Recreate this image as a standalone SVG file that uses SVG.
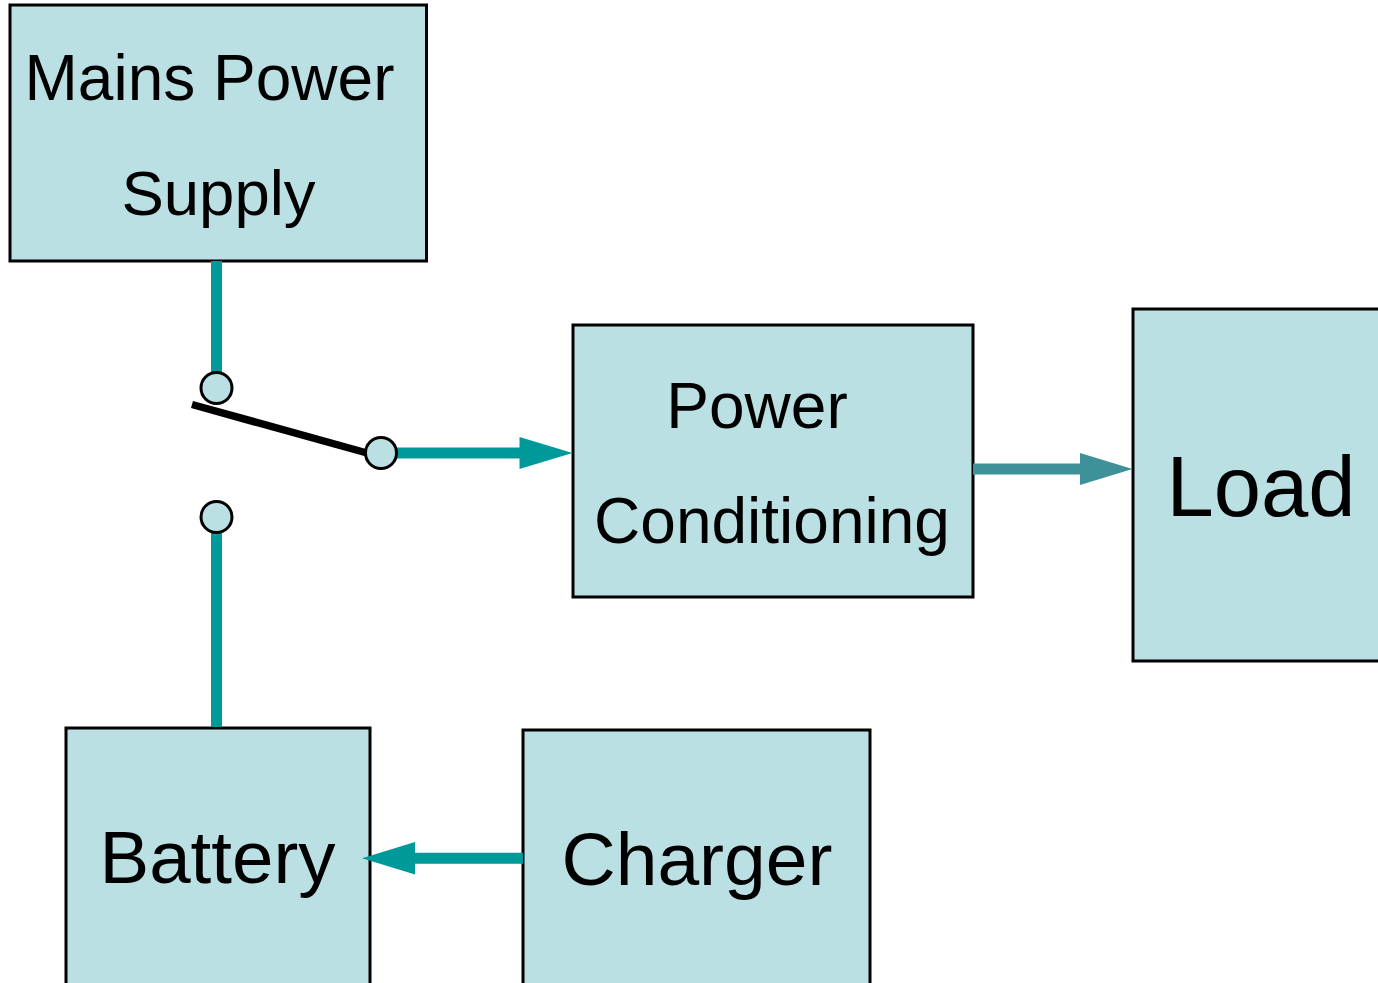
<svg xmlns="http://www.w3.org/2000/svg" width="1378" height="983" viewBox="0 0 1378 983">
<style>
.box{fill:#bbe0e3;stroke:#000;stroke-width:3}
.term{fill:#bbe0e3;stroke:#000;stroke-width:3}
.wire{fill:none;stroke:#009999;stroke-width:11}
text{font-family:"Liberation Sans",Arial,sans-serif;fill:#000;text-anchor:middle}
</style>
<g id="mains"><rect class="box" x="10" y="5" width="416.500" height="256"/>
<text x="209.500" y="100" font-size="64">Mains Power</text><text x="218.500" y="215" font-size="63.500">Supply</text></g>
<g id="conditioning"><rect class="box" x="573" y="325" width="400" height="272"/>
<text x="757" y="428" font-size="64">Power</text><text x="772" y="543" font-size="64">Conditioning</text></g>
<g id="load"><rect class="box" x="1133" y="309" width="250" height="352"/>
<text x="1261" y="516" font-size="85">Load</text></g>
<g id="battery"><rect class="box" x="66" y="728" width="304" height="260"/>
<text x="217.500" y="883" font-size="74.500">Battery</text></g>
<g id="charger"><rect class="box" x="523" y="730" width="347" height="258"/>
<text x="697" y="885" font-size="75">Charger</text></g>
<g id="connectors">
<path class="wire" d="M216.500 261V372"/>
<path class="wire" d="M216.500 533V727"/>
<path class="wire" d="M397 453H522"/>
<polygon points="519.500,437 572.500,453 519.500,469" fill="#009999"/>
<path class="wire" d="M973 469H1082" style="stroke:#3e9199"/>
<polygon points="1080,453 1132.500,469 1080,485" fill="#3e9199"/>
<path class="wire" d="M523 858.300H413"/>
<polygon points="415,842 362,858.300 415,874.500" fill="#009999"/>
<path d="M192 404.500L367 453" fill="none" stroke="#000" stroke-width="7.500"/>
</g>
<g id="switch">
<circle class="term" cx="216.500" cy="388" r="15.500"/>
<circle class="term" cx="381" cy="453" r="15.500"/>
<circle class="term" cx="216.500" cy="517" r="15.500"/>
</g>
</svg>
